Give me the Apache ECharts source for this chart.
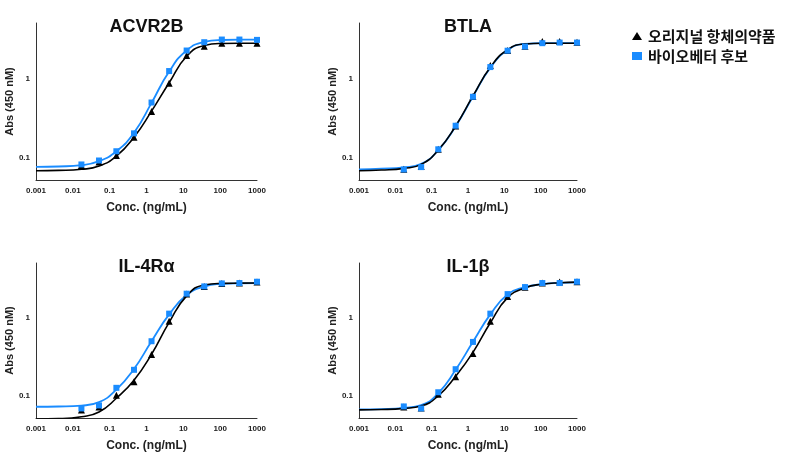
<!DOCTYPE html>
<html>
<head>
<meta charset="utf-8">
<script src="https://cdn.jsdelivr.net/npm/echarts@6/dist/echarts.min.js"></script>
<style>
  html, body { margin: 0; padding: 0; background: #fff; }
  #main { width: 788px; height: 454px; }
</style>
</head>
<body>
<div id="main"></div>
<script>
// 농도 (3배 희석, ng/mL)
var conc = [0.0171, 0.0514, 0.152, 0.457, 1.37, 4.12, 12.3, 37, 111, 333, 1000];
// 곡선(fit)을 그리는 x 값
var fitConc = [0.001, 0.0041, 0.0171, 0.0514, 0.152, 0.457, 1.37, 4.12, 12.3, 37, 111, 333, 1000];

var xTicks = [0.001, 0.01, 0.1, 1, 10, 100, 1000];
var xTickLabels = ['0.001', '0.01', '0.1', '1', '10', '100', '1000'];
var yTicks = [0.1, 1];
var yTickLabels = ['0.1', '1'];

var panelNames = ['ACVR2B', 'BTLA', 'IL-4R\u03b1', 'IL-1\u03b2'];

// ACVR2B
var acvrOrig = [0.079, 0.088, 0.106, 0.18, 0.382, 0.865, 1.945, 2.55, 2.78, 2.78, 2.78];
var acvrCand = [0.0817, 0.0917, 0.120, 0.202, 0.495, 1.236, 2.246, 2.86, 3.09, 3.09, 3.06];
var acvrOrigFit = [0.068, 0.0687, 0.071, 0.078, 0.104, 0.18, 0.385, 0.88, 1.9, 2.6, 2.76, 2.78, 2.78];
var acvrCandFit = [0.076, 0.077, 0.080, 0.090, 0.12, 0.205, 0.49, 1.22, 2.25, 2.88, 3.05, 3.08, 3.08];

// BTLA
var btlaOrig = [0.071, 0.077, 0.127, 0.25, 0.59, 1.45, 2.25, 2.55, 2.92, 2.92, 2.85];
var btlaCand = [0.0706, 0.0757, 0.127, 0.252, 0.585, 1.388, 2.234, 2.52, 2.78, 2.83, 2.83];
var btlaOrigFit = [0.068, 0.0695, 0.073, 0.082, 0.124, 0.25, 0.6, 1.38, 2.3, 2.72, 2.78, 2.78, 2.78];
var btlaCandFit = [0.071, 0.0722, 0.075, 0.083, 0.124, 0.248, 0.59, 1.36, 2.28, 2.72, 2.78, 2.78, 2.78];

// IL-4Ra
var il4Orig = [0.0656, 0.072, 0.102, 0.151, 0.337, 0.898, 2.0, 2.5, 2.74, 2.77, 2.85];
var il4Cand = [0.0689, 0.0753, 0.1265, 0.215, 0.499, 1.125, 2.025, 2.51, 2.74, 2.77, 2.88];
var il4OrigFit = [0.0505, 0.051, 0.054, 0.062, 0.093, 0.158, 0.34, 0.87, 1.9, 2.62, 2.74, 2.76, 2.77];
var il4CandFit = [0.0724, 0.073, 0.075, 0.083, 0.12, 0.22, 0.5, 1.1, 1.95, 2.5, 2.7, 2.75, 2.76];

// IL-1b
var il1Orig = [0.072, 0.070, 0.105, 0.175, 0.347, 0.898, 1.87, 2.45, 2.77, 2.85, 2.88];
var il1Cand = [0.0731, 0.0689, 0.111, 0.219, 0.489, 1.125, 2.0, 2.46, 2.77, 2.77, 2.88];
var il1OrigFit = [0.066, 0.0667, 0.069, 0.074, 0.1, 0.178, 0.36, 0.86, 1.8, 2.4, 2.68, 2.8, 2.85];
var il1CandFit = [0.067, 0.0677, 0.070, 0.076, 0.108, 0.215, 0.49, 1.1, 1.98, 2.45, 2.68, 2.78, 2.82];

var origName = '오리지널 항체의약품';
var candName = '바이오베터 후보';
var blue = '#1a8cff';
var black = '#000';
var font = '"Liberation Sans", Arial, sans-serif';

var panels = [
  { orig: acvrOrig, cand: acvrCand, origFit: acvrOrigFit, candFit: acvrCandFit },
  { orig: btlaOrig, cand: btlaCand, origFit: btlaOrigFit, candFit: btlaCandFit },
  { orig: il4Orig, cand: il4Cand, origFit: il4OrigFit, candFit: il4CandFit },
  { orig: il1Orig, cand: il1Cand, origFit: il1OrigFit, candFit: il1CandFit }
];

// grid 위치 (2x2)
var grids = [
  { left: 36, top: 23, width: 221, height: 157 },
  { left: 359, top: 23, width: 218, height: 157 },
  { left: 36, top: 263, width: 221, height: 155 },
  { left: 359, top: 263, width: 218, height: 155 }
];

function zip(xs, ys) {
  var out = [];
  for (var i = 0; i < xs.length; i++) out.push([xs[i], ys[i]]);
  return out;
}

var xAxes = [], yAxes = [], series = [], graphics = [];
grids.forEach(function (g, i) {
  xAxes.push({
    gridIndex: i, type: 'log', logBase: 10, min: 0.001, max: 1000,
    name: 'Conc. (ng/mL)', nameLocation: 'middle', nameGap: 22,
    nameTextStyle: { fontSize: 12, fontWeight: 'bold', color: '#222', fontFamily: font },
    axisLine: { lineStyle: { color: '#333', width: 1 } },
    axisTick: { show: false },
    splitLine: { show: false },
    axisLabel: {
      customValues: xTicks, fontSize: 8, fontWeight: 'bold', color: '#222', fontFamily: font, margin: 7,
      formatter: function (v) { return xTickLabels[Math.round(Math.log10(v)) + 3]; }
    }
  });
  yAxes.push({
    gridIndex: i, type: 'log', logBase: 10, min: 0.052, max: 5,
    name: 'Abs (450 nM)', nameLocation: 'middle', nameGap: 17,
    nameTextStyle: { fontSize: 11, fontWeight: 'bold', color: '#222', fontFamily: font },
    axisLine: { show: true, lineStyle: { color: '#333', width: 1 } },
    axisTick: { show: false },
    splitLine: { show: false },
    axisLabel: {
      customValues: yTicks, fontSize: 8, fontWeight: 'bold', color: '#222', fontFamily: font, margin: 6,
      formatter: function (v) { return yTickLabels[Math.round(Math.log10(v)) + 1]; }
    }
  });
  var p = panels[i];
  series.push({
    name: candName, type: 'line', xAxisIndex: i, yAxisIndex: i, smooth: 0.5,
    showSymbol: false, data: zip(fitConc, p.candFit),
    lineStyle: { color: blue, width: 1.8 }, itemStyle: { color: blue }, z: 2
  });
  series.push({
    name: origName, type: 'line', xAxisIndex: i, yAxisIndex: i, smooth: 0.5,
    showSymbol: false, data: zip(fitConc, p.origFit),
    lineStyle: { color: black, width: 1.6 }, itemStyle: { color: black }, z: 3
  });
  series.push({
    name: origName, type: 'scatter', xAxisIndex: i, yAxisIndex: i,
    symbol: 'triangle', symbolSize: 7, data: zip(conc, p.orig),
    itemStyle: { color: black, opacity: 1 }, z: 4
  });
  series.push({
    name: candName, type: 'scatter', xAxisIndex: i, yAxisIndex: i,
    symbol: 'rect', symbolSize: 6, data: zip(conc, p.cand),
    itemStyle: { color: blue, opacity: 1 }, z: 5
  });
  graphics.push({
    type: 'text', z: 10,
    style: {
      text: panelNames[i], x: g.left + g.width / 2, y: g.top + 4,
      textAlign: 'center', textVerticalAlign: 'middle',
      font: 'bold 18px ' + font, fill: '#111'
    }
  });
});

var chart = echarts.init(document.getElementById('main'));
chart.setOption({
  animation: false,
  backgroundColor: '#fff',
  grid: grids,
  xAxis: xAxes,
  yAxis: yAxes,
  series: series,
  graphic: graphics,
  legend: {
    orient: 'vertical', left: 632, top: 27, itemWidth: 10, itemHeight: 8, itemGap: 2,
    selectedMode: false, padding: 0,
    textStyle: {
      fontSize: 15, lineHeight: 18, fontWeight: 'bold', color: '#111',
      fontFamily: '"Noto Sans CJK KR", sans-serif', padding: [0, 0, 0, 1]
    },
    data: [
      { name: origName, icon: 'triangle', itemStyle: { color: black } },
      { name: candName, icon: 'rect', itemStyle: { color: blue } }
    ]
  }
});
</script>
</body>
</html>
